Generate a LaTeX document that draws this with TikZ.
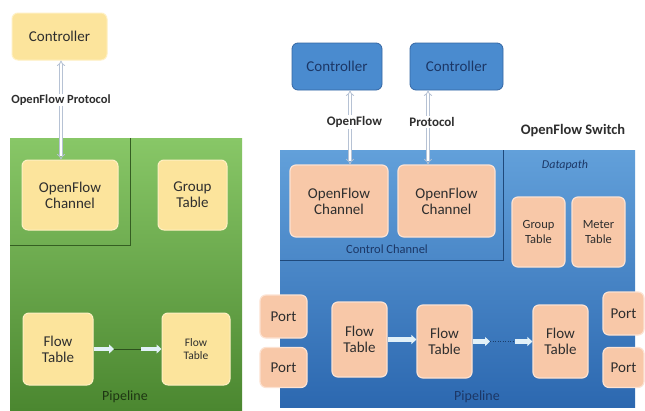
\documentclass[tikz,border=0pt]{standalone}
\usepackage{fontspec}
\setmainfont{Carlito}
\usetikzlibrary{arrows.meta}

\definecolor{ybox}{HTML}{FCE49C}
\definecolor{yedge}{HTML}{FFF0C2}
\definecolor{sbox}{HTML}{F8C8A8}
\definecolor{sedge}{HTML}{FCE2D2}
\definecolor{bctrl}{HTML}{4A8BCF}
\definecolor{bctrledge}{HTML}{3567A4}
\definecolor{gtop}{HTML}{88C767}
\definecolor{gbot}{HTML}{4B8730}
\definecolor{btop}{HTML}{62A0DA}
\definecolor{bbot}{HTML}{2C68B0}
\definecolor{txt}{HTML}{2E2E2E}
\definecolor{navy}{HTML}{1C3766}
\definecolor{linkc}{HTML}{B6C2D4}
\definecolor{flowc}{HTML}{E2F1F8}

\tikzset{
  fs/.style={font=\fontsize{#1}{#1}\selectfont},
  ybx/.style={rectangle, rounded corners=6pt, fill=ybox, draw=yedge, line width=1pt,
    text=txt, align=center, fs=15},
  sbx/.style={rectangle, rounded corners=6pt, fill=sbox, draw=sedge, line width=1.2pt,
    text=txt, align=center, fs=15},
  ctrlbx/.style={rectangle, rounded corners=6pt, fill=bctrl, draw=bctrledge, line width=0.8pt,
    text=navy, align=center, fs=15},
  link/.style={draw=linkc, double=white, double distance=2pt, line width=0.8pt,
    {Implies}-{Implies}},
  fatarrow/.style={draw=flowc, line width=4.5pt, -{Triangle[width=9pt,length=5pt]}},
  thinlink/.style={draw=#1, line width=0.5pt},
  divider/.style={draw=#1, line width=0.6pt},
  lbl/.style={text=txt, inner sep=0pt, fs=#1},
}

\begin{document}
\begin{tikzpicture}[x=1pt,y=-1pt]
\useasboundingbox (0,0) rectangle (645,410);
\fill[white] (0,0) rectangle (645,410);

% ---------------- OpenFlow switch, first version ----------------
\shade[top color=gtop, bottom color=gbot] (10,138) rectangle (242,410);
\draw[divider=gbot!70!black] (130,138) -- (130,245) -- (10,245);

\node[ybx, minimum width=95pt, minimum height=47pt] (lctrl) at (59.5,36.5) {Controller};
\node[ybx, minimum width=96pt, minimum height=70pt] (lchan) at (70,195) {OpenFlow\\[1pt]Channel};
\node[ybx, minimum width=69pt, minimum height=70pt] (lgroup) at (192.5,195) {Group\\[1pt]Table};
\node[ybx, minimum width=70pt, minimum height=72pt] (lft1) at (58,349) {Flow\\[1pt]Table};
\node[ybx, minimum width=68pt, minimum height=72pt, fs=11.5] (lft2) at (196,349) {Flow\\[1pt]Table};

\coordinate (lx) at (61,0);
\draw[link] (lctrl.south -| lx) -- (lchan.north -| lx);
\node[lbl=12.5, font=\bfseries\fontsize{12.5}{12.5}\selectfont, fill=white, inner sep=1pt] (lproto) at (61,100) {OpenFlow Protocol};

\coordinate (lp1) at (114,349);
\coordinate (lp2) at (141,349);
\draw[fatarrow] (lft1.east) -- (lp1);
\draw[thinlink=gbot!60!black] (lp1) -- (lp2);
\draw[fatarrow] (lp2) -- (lft2.west);
\node[lbl=14, text=gbot!40!black] (lpipe) at (125,397) {Pipeline};

% ---------------- OpenFlow switch, second version ----------------
\shade[top color=btop, bottom color=bbot] (280,150) rectangle (635,407);
\draw[divider=bbot!70!black] (503,150) -- (503,260) -- (280,260);

\node[ctrlbx, minimum width=90pt, minimum height=47pt] (rctrl1) at (337,66.5) {Controller};
\node[ctrlbx, minimum width=93pt, minimum height=47pt] (rctrl2) at (456.5,66.5) {Controller};

\node[sbx, minimum width=98pt, minimum height=72pt] (rchan1) at (339,201) {OpenFlow\\[1pt]Channel};
\node[sbx, minimum width=97pt, minimum height=72pt] (rchan2) at (446.5,201) {OpenFlow\\[1pt]Channel};
\node[sbx, minimum width=53pt, minimum height=70pt, fs=12.5] (rgroup) at (538.5,232) {Group\\[2pt]Table};
\node[sbx, minimum width=53pt, minimum height=70pt, fs=12.5] (rmeter) at (598.5,232) {Meter\\[2pt]Table};

\coordinate (rx1) at (350,0);
\coordinate (rx2) at (428,0);
\draw[link] (rctrl1.south -| rx1) -- (rchan1.north -| rx1);
\draw[link] (rctrl2.south -| rx2) -- (rchan2.north -| rx2);
\node[lbl=13, font=\bfseries\fontsize{13}{13}\selectfont, fill=white, inner sep=1pt] (rof) at (354.5,122) {OpenFlow};
\node[lbl=13, font=\bfseries\fontsize{13}{13}\selectfont, fill=white, inner sep=1pt] (rproto) at (432,122) {Protocol};
\node[lbl=15, font=\bfseries\fontsize{14.5}{14.5}\selectfont] (rswitch) at (573,131) {OpenFlow Switch};
\node[lbl=12, text=navy, font=\itshape\fontsize{12}{12}\selectfont] (rdata) at (565,165) {Datapath};
\node[lbl=12.5, text=navy] (rcc) at (387,249) {Control Channel};

\node[sbx, minimum width=47pt, minimum height=43pt] (rport1) at (283.5,316.5) {Port};
\node[sbx, minimum width=47pt, minimum height=40pt] (rport2) at (283.5,367.5) {Port};
\node[sbx, minimum width=41pt, minimum height=43pt] (rport3) at (623.5,313.5) {Port};
\node[sbx, minimum width=41pt, minimum height=40pt] (rport4) at (623.5,367.5) {Port};

\node[sbx, minimum width=55pt, minimum height=75pt] (rft1) at (359.5,339.5) {Flow\\[1pt]Table};
\node[sbx, minimum width=55pt, minimum height=73pt] (rft2) at (444.5,341.5) {Flow\\[1pt]Table};
\node[sbx, minimum width=55pt, minimum height=73pt] (rft3) at (560.5,341.5) {Flow\\[1pt]Table};

\coordinate (rp1) at (490,341.5);
\coordinate (rp2) at (515,341.5);
\draw[fatarrow] (rft1.east) -- (rft2.west |- rft1.east);
\draw[fatarrow] (rft2.east) -- (rp1);
\draw[thinlink=bbot!60!black, dotted] (rp1) -- (rp2);
\draw[fatarrow] (rp2) -- (rft3.west);
\node[lbl=14, text=navy] (rpipe) at (477,397) {Pipeline};
\end{tikzpicture}
\end{document}
